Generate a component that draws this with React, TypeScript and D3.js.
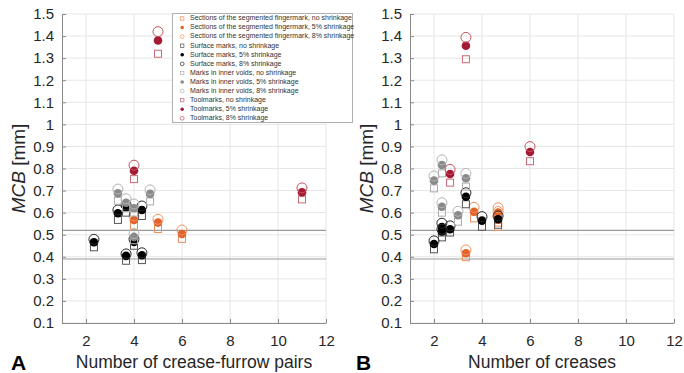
import React, { useEffect, useRef } from "react";
import * as d3 from "d3";

// each row: x, no shrinkage, 5% shrinkage, 8% shrinkage
type Row = [number, number, number, number];

const groups = [
  "Sections of the segmented fingermark",
  "Surface marks",
  "Marks in inner voids",
  "Toolmarks",
];
const shrinkage = ["no shrinkage", "5% shrinkage", "8% shrinkage"];

// panel A : number of crease-furrow pairs
const pairsSections: Row[] = [
  [4, 0.54, 0.567, 0.585],
  [5, 0.526, 0.555, 0.57],
  [6, 0.481, 0.503, 0.521],
];
const pairsSurface: Row[] = [
  [2.33, 0.443, 0.466, 0.479],
  [3.33, 0.567, 0.597, 0.612],
  [3.67, 0.6, 0.625, 0.635],
  [3.67, 0.382, 0.404, 0.413],
  [4, 0.45, 0.467, 0.48],
  [4.33, 0.585, 0.612, 0.63],
  [4.33, 0.385, 0.407, 0.418],
];
const pairsVoids: Row[] = [
  [3.33, 0.654, 0.688, 0.707],
  [3.67, 0.62, 0.645, 0.663],
  [4, 0.6, 0.62, 0.639],
  [4, 0.475, 0.49, 0.505],
  [4.67, 0.651, 0.685, 0.703],
];
const pairsTool: Row[] = [
  [4, 0.752, 0.79, 0.815],
  [5, 1.32, 1.38, 1.42],
  [11, 0.66, 0.692, 0.712],
];

// panel B : number of creases
const creasesSections: Row[] = [
  [3.33, 0.398, 0.416, 0.431],
  [3.67, 0.574, 0.604, 0.624],
  [4.67, 0.555, 0.6, 0.622],
  [4.67, 0.535, 0.585, 0.605],
];
const creasesSurface: Row[] = [
  [2, 0.434, 0.458, 0.472],
  [2.33, 0.51, 0.535, 0.552],
  [2.33, 0.488, 0.515, 0.525],
  [2.67, 0.51, 0.525, 0.54],
  [3.33, 0.638, 0.672, 0.69],
  [4, 0.536, 0.564, 0.582],
  [4.67, 0.545, 0.57, 0.585],
];
const creasesVoids: Row[] = [
  [2, 0.71, 0.745, 0.766],
  [2.33, 0.778, 0.816, 0.839],
  [2.33, 0.6, 0.627, 0.645],
  [3, 0.559, 0.588, 0.606],
  [3.33, 0.718, 0.756, 0.778],
];
const creasesTool: Row[] = [
  [2.67, 0.736, 0.775, 0.796],
  [3.33, 1.295, 1.356, 1.394],
  [6, 0.833, 0.875, 0.899],
];

const xTicks = [2, 4, 6, 8, 10, 12];
const yTicks = d3.range(1, 16).map((i) => i / 10);
const refLines = [0.52, 0.39];

const fillCol = ["#e2622a", "#000000", "#8a8a8a", "#a51a33"];
const openCol = ["#ec9462", "#2a2a2a", "#b4b4b4", "#c4535f"];
const squareCol = ["#e98e5e", "#555555", "#ababab", "#c86a74"];

const FONT = "'Liberation Sans', Arial, sans-serif";
const TOP = 14;
const BOTTOM = 323;

const panels = [
  {
    left: 62,
    right: 326,
    data: [pairsSections, pairsSurface, pairsVoids, pairsTool],
    xLabel: "Number of crease-furrow pairs",
    letter: "A",
    letterX: 11,
    yLabelX: 20,
  },
  {
    left: 410,
    right: 674,
    data: [creasesSections, creasesSurface, creasesVoids, creasesTool],
    xLabel: "Number of creases",
    letter: "B",
    letterX: 356,
    yLabelX: 368,
  },
];

const App = () => {
  const svgRef = useRef<SVGSVGElement>(null);

  useEffect(() => {
    const svg = d3.select(svgRef.current);
    svg.selectAll("*").remove();

    panels.forEach((p) => {
      const x = d3.scaleLinear().domain([1, 12]).range([p.left, p.right]);
      const y = d3.scaleLinear().domain([0.1, 1.5]).range([BOTTOM, TOP]);
      const g = svg.append("g");

      // grid
      g.selectAll(".gx")
        .data(xTicks)
        .join("line")
        .attr("class", "gx")
        .attr("x1", (d) => x(d))
        .attr("x2", (d) => x(d))
        .attr("y1", TOP)
        .attr("y2", BOTTOM)
        .attr("stroke", "#e6e6e6");
      g.selectAll(".gy")
        .data(yTicks)
        .join("line")
        .attr("class", "gy")
        .attr("x1", p.left)
        .attr("x2", p.right)
        .attr("y1", (d) => y(d))
        .attr("y2", (d) => y(d))
        .attr("stroke", "#e6e6e6");

      // threshold lines
      g.selectAll(".ref")
        .data(refLines)
        .join("line")
        .attr("class", "ref")
        .attr("x1", p.left)
        .attr("x2", p.right)
        .attr("y1", (d) => y(d))
        .attr("y2", (d) => y(d))
        .attr("stroke", "#9a9a9a")
        .attr("stroke-width", 1.2);

      const xAxis = g
        .append("g")
        .attr("transform", `translate(0,${BOTTOM})`)
        .call(
          d3.axisBottom(x).tickValues(xTicks).tickSizeInner(-4).tickSizeOuter(0).tickPadding(12)
        );
      const yAxis = g
        .append("g")
        .attr("transform", `translate(${p.left},0)`)
        .call(
          d3
            .axisLeft(y)
            .tickValues(yTicks)
            .tickFormat((d) => String(+(+d).toFixed(1)))
            .tickSizeInner(-4)
            .tickSizeOuter(0)
            .tickPadding(8)
        );
      [xAxis, yAxis].forEach((a) => {
        a.select(".domain").attr("stroke", "#8a8a8a");
        a.selectAll(".tick line").attr("stroke", "#8a8a8a");
        a.selectAll("text")
          .attr("font-family", FONT)
          .attr("font-size", 15)
          .attr("fill", "#262626");
      });

      // markers
      p.data.forEach((rows, gi) => {
        const dg = g.append("g");
        dg.selectAll(".sq")
          .data(rows)
          .join("rect")
          .attr("class", "sq")
          .attr("x", (d) => x(d[0]) - 3.5)
          .attr("y", (d) => y(d[1]) - 3.5)
          .attr("width", 7)
          .attr("height", 7)
          .attr("fill", "none")
          .attr("stroke", squareCol[gi]);
        dg.selectAll(".fc")
          .data(rows)
          .join("circle")
          .attr("class", "fc")
          .attr("cx", (d) => x(d[0]))
          .attr("cy", (d) => y(d[2]))
          .attr("r", 4.3)
          .attr("fill", fillCol[gi]);
        dg.selectAll(".oc")
          .data(rows)
          .join("circle")
          .attr("class", "oc")
          .attr("cx", (d) => x(d[0]))
          .attr("cy", (d) => y(d[3]))
          .attr("r", 5)
          .attr("fill", "none")
          .attr("stroke", openCol[gi]);
      });

      // labels
      const yl = g
        .append("text")
        .attr("transform", `translate(${p.yLabelX},${(TOP + BOTTOM) / 2}) rotate(-90)`)
        .attr("text-anchor", "middle")
        .attr("dominant-baseline", "middle")
        .attr("font-family", FONT)
        .attr("font-size", 19)
        .attr("fill", "#262626");
      yl.append("tspan").attr("font-style", "italic").text("MCB");
      yl.append("tspan").text(" [mm]");

      g.append("text")
        .attr("x", (p.left + p.right) / 2)
        .attr("y", 368)
        .attr("text-anchor", "middle")
        .attr("font-family", FONT)
        .attr("font-size", 17.5)
        .attr("fill", "#262626")
        .text(p.xLabel);

      g.append("text")
        .attr("x", p.letterX)
        .attr("y", 370)
        .attr("font-family", FONT)
        .attr("font-weight", "bold")
        .attr("font-size", 21)
        .attr("fill", "#000")
        .text(p.letter);
    });

    // legend
    const lg = svg.append("g");
    lg.append("rect")
      .attr("x", 172.5)
      .attr("y", 13.5)
      .attr("width", 180)
      .attr("height", 109)
      .attr("fill", "#fff")
      .attr("stroke", "#b0b0b0");
    const entries = groups.flatMap((grp, gi) =>
      shrinkage.map((s, si) => ({ label: `${grp}, ${s}`, gi, si }))
    );
    const ly = d3.scaleLinear().domain([0, entries.length - 1]).range([18.5, 118.3]);
    entries.forEach((e, i) => {
      const cy = ly(i);
      if (e.si === 0) {
        lg.append("rect")
          .attr("x", 180.5)
          .attr("y", cy - 1.7)
          .attr("width", 3.4)
          .attr("height", 3.4)
          .attr("fill", "none")
          .attr("stroke", squareCol[e.gi])
          .attr("stroke-width", 0.7);
      } else if (e.si === 1) {
        lg.append("circle").attr("cx", 182.2).attr("cy", cy).attr("r", 1.8).attr("fill", fillCol[e.gi]);
      } else {
        lg.append("circle")
          .attr("cx", 182.2)
          .attr("cy", cy)
          .attr("r", 1.9)
          .attr("fill", "none")
          .attr("stroke", openCol[e.gi])
          .attr("stroke-width", 0.7);
      }
      lg.append("text")
        .attr("x", 190)
        .attr("y", cy)
        .attr("dominant-baseline", "middle")
        .attr("font-family", FONT)
        .attr("font-size", 7)
        .attr("fill", "#333")
        .text(e.label);
    });
  }, []);

  return (
    <svg
      ref={svgRef}
      width={684}
      height={373}
      style={{ position: "absolute", left: 0, top: 0, background: "#fff" }}
    />
  );
};

export default App;
